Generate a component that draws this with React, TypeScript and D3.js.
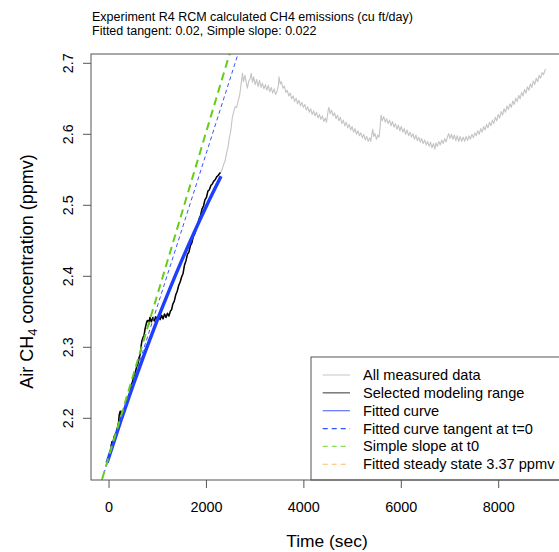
import React from "react";
import * as d3 from "d3";

// Time (s) / CH4 concentration (ppmv) inside the selected modeling range
const selectedRange: [number, number][] = [
  [40, 2.16], [60, 2.167], [80, 2.163], [100, 2.173], [120, 2.177], [140, 2.173],
  [160, 2.184], [180, 2.188], [195, 2.194], [210, 2.205], [230, 2.21], [250, 2.204],
  [270, 2.21], [290, 2.212], [310, 2.208], [330, 2.217], [360, 2.221], [390, 2.23],
  [420, 2.235], [450, 2.245], [480, 2.251], [510, 2.26], [540, 2.265], [570, 2.273],
  [600, 2.278], [620, 2.286], [640, 2.29], [660, 2.302], [675, 2.309], [700, 2.314],
  [720, 2.317], [740, 2.326], [760, 2.332], [780, 2.337], [800, 2.338], [820, 2.333],
  [840, 2.342], [870, 2.336], [900, 2.342], [930, 2.337], [960, 2.343], [990, 2.338],
  [1020, 2.344], [1050, 2.339], [1080, 2.345], [1110, 2.34], [1140, 2.347], [1170, 2.342],
  [1200, 2.348], [1230, 2.344], [1260, 2.351], [1285, 2.353], [1310, 2.361], [1340, 2.365],
  [1370, 2.374], [1400, 2.379], [1430, 2.387], [1460, 2.392], [1490, 2.399], [1520, 2.404],
  [1550, 2.416], [1580, 2.422], [1610, 2.431], [1640, 2.434], [1670, 2.443], [1700, 2.447],
  [1730, 2.456], [1760, 2.46], [1790, 2.467], [1820, 2.472], [1850, 2.481], [1880, 2.486],
  [1910, 2.495], [1940, 2.499], [1970, 2.508], [2000, 2.511], [2030, 2.52], [2060, 2.522],
  [2090, 2.528], [2120, 2.53], [2150, 2.534], [2180, 2.536], [2210, 2.54], [2240, 2.542],
  [2270, 2.545], [2290, 2.546],
];

// Remaining measured record after the modeling range
const laterRecord: [number, number][] = [
  [2320, 2.55], [2350, 2.557], [2380, 2.562], [2410, 2.572], [2440, 2.581], [2470, 2.595],
  [2500, 2.605], [2530, 2.623], [2560, 2.632], [2590, 2.639], [2620, 2.638], [2650, 2.647],
  [2680, 2.654], [2710, 2.67], [2740, 2.686], [2760, 2.674], [2790, 2.683], [2820, 2.672],
  [2840, 2.665], [2870, 2.675], [2900, 2.679], [2920, 2.686], [2945, 2.673], [2970, 2.681],
  [3000, 2.67], [3030, 2.677], [3060, 2.667], [3090, 2.676], [3120, 2.666], [3150, 2.672],
  [3180, 2.664], [3210, 2.67], [3240, 2.662], [3270, 2.669], [3300, 2.66], [3330, 2.666],
  [3360, 2.658], [3390, 2.664], [3420, 2.656], [3450, 2.661], [3475, 2.668], [3490, 2.681],
  [3515, 2.671], [3540, 2.674], [3570, 2.665], [3600, 2.668], [3630, 2.659], [3660, 2.662],
  [3690, 2.654], [3720, 2.658], [3750, 2.65], [3780, 2.654], [3810, 2.646], [3840, 2.651],
  [3870, 2.643], [3900, 2.648], [3930, 2.64], [3960, 2.645], [3990, 2.638], [4020, 2.642],
  [4050, 2.634], [4080, 2.639], [4110, 2.631], [4140, 2.636], [4170, 2.628], [4200, 2.633],
  [4230, 2.626], [4260, 2.631], [4290, 2.623], [4320, 2.628], [4350, 2.621], [4380, 2.626],
  [4410, 2.618], [4440, 2.623], [4465, 2.617], [4480, 2.624], [4500, 2.634], [4515, 2.638],
  [4540, 2.629], [4570, 2.634], [4600, 2.626], [4630, 2.63], [4660, 2.622], [4690, 2.627],
  [4720, 2.619], [4750, 2.624], [4780, 2.615], [4810, 2.62], [4840, 2.612], [4870, 2.617],
  [4900, 2.609], [4930, 2.614], [4960, 2.606], [4990, 2.611], [5020, 2.603], [5050, 2.608],
  [5080, 2.6], [5110, 2.605], [5140, 2.598], [5170, 2.602], [5200, 2.595], [5230, 2.6],
  [5260, 2.592], [5290, 2.597], [5320, 2.59], [5350, 2.595], [5375, 2.59], [5395, 2.6],
  [5415, 2.607], [5435, 2.597], [5460, 2.601], [5490, 2.593], [5520, 2.599], [5545, 2.596],
  [5565, 2.61], [5585, 2.627], [5610, 2.619], [5640, 2.625], [5670, 2.617], [5700, 2.622],
  [5730, 2.615], [5760, 2.62], [5790, 2.612], [5820, 2.618], [5850, 2.61], [5880, 2.615],
  [5910, 2.607], [5940, 2.613], [5970, 2.605], [6000, 2.611], [6030, 2.603], [6060, 2.608],
  [6090, 2.6], [6120, 2.606], [6150, 2.598], [6180, 2.603], [6210, 2.596], [6240, 2.601],
  [6270, 2.593], [6300, 2.599], [6330, 2.591], [6360, 2.596], [6390, 2.589], [6420, 2.594],
  [6450, 2.587], [6480, 2.592], [6510, 2.585], [6540, 2.59], [6570, 2.583], [6600, 2.589],
  [6630, 2.581], [6660, 2.587], [6690, 2.579], [6710, 2.588], [6740, 2.583], [6770, 2.59],
  [6800, 2.585], [6830, 2.592], [6860, 2.587], [6890, 2.594], [6920, 2.589], [6950, 2.597],
  [6975, 2.601], [7000, 2.594], [7030, 2.6], [7060, 2.593], [7090, 2.599], [7120, 2.591],
  [7150, 2.598], [7180, 2.59], [7210, 2.597], [7240, 2.59], [7270, 2.596], [7300, 2.59],
  [7330, 2.597], [7360, 2.591], [7390, 2.598], [7420, 2.593], [7450, 2.6], [7480, 2.595],
  [7510, 2.602], [7540, 2.598], [7570, 2.605], [7600, 2.6], [7630, 2.608], [7660, 2.603],
  [7690, 2.611], [7720, 2.606], [7750, 2.614], [7780, 2.609], [7810, 2.617], [7840, 2.612],
  [7870, 2.62], [7900, 2.615], [7930, 2.624], [7960, 2.619], [7990, 2.628], [8020, 2.623],
  [8050, 2.632], [8080, 2.627], [8110, 2.636], [8140, 2.631], [8170, 2.64], [8200, 2.635],
  [8230, 2.643], [8260, 2.638], [8290, 2.647], [8320, 2.642], [8350, 2.651], [8380, 2.646],
  [8410, 2.655], [8440, 2.65], [8470, 2.659], [8500, 2.654], [8530, 2.663], [8560, 2.658],
  [8590, 2.667], [8620, 2.662], [8650, 2.671], [8680, 2.666], [8710, 2.675], [8740, 2.67],
  [8770, 2.679], [8800, 2.674], [8830, 2.683], [8860, 2.679], [8890, 2.687], [8920, 2.684],
  [8960, 2.692],
];

// Fitted curve sampled over the modeling range
const fittedCurve: [number, number][] = [
  [-40, 2.1374], [0, 2.1459], [250, 2.1981], [500, 2.2477], [750, 2.2949], [1000, 2.3399],
  [1250, 2.3826], [1500, 2.4234], [1750, 2.4621], [2000, 2.499], [2300, 2.5409],
];

// Straight reference lines: [intercept at t=0 (ppmv), slope (ppmv/s)]
const fittedTangent: [number, number] = [2.145, 0.0002145];
const simpleSlope: [number, number] = [2.147, 0.0002288];

const xTicks = [0, 2000, 4000, 6000, 8000];
const yTicks = [2.2, 2.3, 2.4, 2.5, 2.6, 2.7];

const titleLines = [
  "Experiment R4 RCM calculated CH4 emissions (cu ft/day)",
  "Fitted tangent: 0.02, Simple slope: 0.022",
];

const legendLabels = [
  "All measured data",
  "Selected modeling range",
  "Fitted curve",
  "Fitted curve tangent at t=0",
  "Simple slope at t0",
  "Fitted steady state 3.37 ppmv",
];
const legendColors = ["#cfcfcf", "#555555", "#5f72ff", "#3355ff", "#88dd55", "#ffbb66"];
const legendDashes = [null, null, null, "5,4", "5,4", "5,4"];

const W = 559;
const H = 552;
const plot = { left: 91, right: 563, top: 54, bottom: 480 };
const FONT = "'Liberation Sans', Arial, Helvetica, sans-serif";

export default function App() {
  const x = d3.scaleLinear().domain([-370, 9320]).range([plot.left, plot.right]);
  const y = d3.scaleLinear().domain([2.1131, 2.7131]).range([plot.bottom, plot.top]);

  const straight = d3
    .line<[number, number]>()
    .x((d) => x(d[0]))
    .y((d) => y(d[1]));
  const smooth = d3
    .line<[number, number]>()
    .x((d) => x(d[0]))
    .y((d) => y(d[1]))
    .curve(d3.curveMonotoneX);

  const [xMin, xMax] = x.domain();
  const abline = ([a, b]: [number, number]) =>
    straight([
      [xMin, a + b * xMin],
      [xMax, a + b * xMax],
    ]) as string;

  const allMeasured = selectedRange.concat(laterRecord);

  const legendX = 311;
  const legendTop = 357;
  const rowY = (i: number) => 375 + i * 17.85;

  return (
    <svg
      width={W}
      height={H}
      style={{ position: "absolute", left: 0, top: 0, background: "#fff" }}
      fontFamily={FONT}
    >
      <defs>
        <clipPath id="plotArea">
          <rect x={plot.left} y={plot.top} width={plot.right - plot.left} height={plot.bottom - plot.top} />
        </clipPath>
      </defs>
      <rect width={W} height={H} fill="#fff" />

      {titleLines.map((t, i) => (
        <text key={t} x={92} y={20.5 + i * 14.5} fontSize={12.5} fill="#000">
          {t}
        </text>
      ))}

      <g clipPath="url(#plotArea)" fill="none">
        <path d={straight(allMeasured) as string} stroke="#c4c4c4" strokeWidth={1.1} strokeLinejoin="round" />
        <path d={straight(selectedRange) as string} stroke="#000" strokeWidth={1.5} strokeLinejoin="round" />
        <path d={smooth(fittedCurve) as string} stroke="#1f3fff" strokeWidth={3.4} />
        <path d={abline(fittedTangent)} stroke="#3a55ff" strokeWidth={1} strokeDasharray="4,3" />
        <path d={abline(simpleSlope)} stroke="#66cc1a" strokeWidth={2} strokeDasharray="8,5" />
      </g>

      {/* legend */}
      <g>
        <rect
          x={legendX}
          y={legendTop}
          width={W + 10 - legendX}
          height={plot.bottom - legendTop}
          fill="#fff"
          stroke="#555"
          strokeWidth={1}
        />
        {legendLabels.map((label, i) => (
          <g key={label}>
            <line
              x1={322.7}
              x2={350}
              y1={rowY(i)}
              y2={rowY(i)}
              stroke={legendColors[i]}
              strokeWidth={1.2}
              strokeDasharray={legendDashes[i] ?? undefined}
            />
            <text x={363} y={rowY(i) + 5} fontSize={14.6} fill="#000">
              {label}
            </text>
          </g>
        ))}
      </g>

      {/* plot frame */}
      <rect
        x={plot.left}
        y={plot.top}
        width={plot.right - plot.left}
        height={plot.bottom - plot.top}
        fill="none"
        stroke="#555"
        strokeWidth={1}
      />

      {/* x axis */}
      <g>
        {xTicks.map((t) => (
          <g key={t} transform={`translate(${x(t)},0)`}>
            <line y1={plot.bottom} y2={plot.bottom + 8} stroke="#555" />
            <text y={511.7} textAnchor="middle" fontSize={14.4} fill="#000">
              {t}
            </text>
          </g>
        ))}
        <text x={(plot.left + plot.right) / 2} y={547} textAnchor="middle" fontSize={17.4} fill="#000">
          Time (sec)
        </text>
      </g>

      {/* y axis */}
      <g>
        {yTicks.map((v) => (
          <g key={v} transform={`translate(0,${y(v)})`}>
            <line x1={plot.left - 8} x2={plot.left} stroke="#555" />
            <text
              transform={`translate(73,0) rotate(-90)`}
              textAnchor="middle"
              fontSize={14.4}
              fill="#000"
            >
              {v.toFixed(1)}
            </text>
          </g>
        ))}
        <text
          transform={`translate(33,271.5) rotate(-90)`}
          textAnchor="middle"
          fontSize={18}
          fill="#000"
        >
          Air CH<tspan dy={4} fontSize={13}>4</tspan>
          <tspan dy={-4}> concentration (ppmv)</tspan>
        </text>
      </g>
    </svg>
  );
}
